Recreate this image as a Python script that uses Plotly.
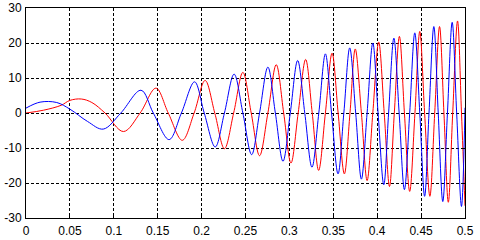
import plotly.graph_objects as go

# Blue curve: key points (extrema and zero crossings)
blue_x = [0, 0.016, 0.035, 0.05, 0.07, 0.088, 0.108, 0.131, 0.145, 0.163, 0.177, 0.192, 0.203,
          0.2155, 0.226, 0.237, 0.247, 0.257, 0.266, 0.2755, 0.284, 0.2927, 0.301, 0.3094,
          0.3175, 0.3257, 0.3335, 0.341, 0.348, 0.3554, 0.362, 0.3687, 0.3755, 0.382, 0.3885,
          0.395, 0.401, 0.4075, 0.413, 0.419, 0.425, 0.431, 0.437, 0.4428, 0.4485, 0.454,
          0.459, 0.4645, 0.4695, 0.4747, 0.480, 0.4854, 0.4905, 0.496, 0.5]
blue_y = [1.4, 3.1, 3.0, 1.1, -2.4, -4.6, 0, 6.5, 0, -7.6, 0, 8.9, 0,
          -9.7, 0, 11.1, 0, -11.9, 0, 13.1, 0, -13.8, 0, 15.0,
          0, -15.5, 0, 16.9, 0, -17.4, 0, 18.6, 0, -18.9, 0,
          20.0, 0, -20.5, 0, 21.4, 0, -21.9, 0, 22.9, 0, -23.8,
          0, 24.7, 0, -25.3, 0, 25.9, 0, -26.7, 1.5]

# Red curve: key points
red_x = [0, 0.02, 0.04, 0.05, 0.063, 0.075, 0.09, 0.111, 0.13, 0.148, 0.162, 0.178, 0.1915,
         0.204, 0.215, 0.226, 0.2365, 0.247, 0.2565, 0.266, 0.2755, 0.285, 0.2935, 0.3018,
         0.310, 0.3185, 0.326, 0.3333, 0.341, 0.3486, 0.3555, 0.3626, 0.369, 0.375, 0.382,
         0.3885, 0.395, 0.4017, 0.408, 0.414, 0.4195, 0.4253, 0.431, 0.437, 0.443, 0.4485,
         0.454, 0.46, 0.4655, 0.471, 0.476, 0.481, 0.486, 0.4915, 0.496, 0.5]
red_y = [0, 0.8, 2.2, 3.6, 4.0, 3.0, 0, -5.3, 0, 7.1, 0, -7.8, 0,
         9.3, 0, -10.2, 0, 11.6, 0, -12.2, 0, 13.8, 0, -14.3,
         0, 15.3, 0, -16.4, 0, 17.1, 0, -17.4, 0, 18.3, 0,
         -19.3, 0, 20.3, 0, -21.0, 0, 21.9, 0, -22.4, 0, 23.3,
         0, -23.8, 0, 24.7, 0, -25.5, 0, 26.3, 0, -26.5]

x_ticks = [0, 0.05, 0.1, 0.15, 0.2, 0.25, 0.3, 0.35, 0.4, 0.45, 0.5]
x_labels = ["0", "0.05", "0.1", "0.15", "0.2", "0.25", "0.3", "0.35", "0.4", "0.45", "0.5"]
y_ticks = [-30, -20, -10, 0, 10, 20, 30]
y_labels = ["-30", "-20", "-10", "0", "10", "20", "30"]

fig = go.Figure()
fig.add_trace(go.Scatter(x=red_x, y=red_y, mode="lines",
                         line=dict(color="#ff0000", width=1, shape="spline", smoothing=1.0)))
fig.add_trace(go.Scatter(x=blue_x, y=blue_y, mode="lines",
                         line=dict(color="#0000ff", width=1, shape="spline", smoothing=1.0)))

axis_common = dict(showline=True, linecolor="black", linewidth=1, mirror="ticks",
                   showgrid=True, gridcolor="black", gridwidth=1, griddash="3px,2px",
                   zeroline=False, ticks="inside", ticklen=3, tickcolor="black",
                   automargin=False,
                   tickfont=dict(family="Liberation Sans, Arial, sans-serif", size=12, color="black"))

fig.update_xaxes(range=[0, 0.5], tickvals=x_ticks, ticktext=x_labels, ticklabelstandoff=2,
                 **axis_common)
fig.update_yaxes(range=[-30, 30], tickvals=y_ticks, ticktext=y_labels, ticklabelstandoff=1,
                 **axis_common)

fig.update_layout(width=480, height=240, showlegend=False,
                  margin=dict(l=26, r=15, t=8, b=22),
                  paper_bgcolor="white", plot_bgcolor="white")

fig.write_html("out.html", config={"displayModeBar": False},
               post_script="document.body.style.margin='0';document.body.style.overflow='hidden';")
